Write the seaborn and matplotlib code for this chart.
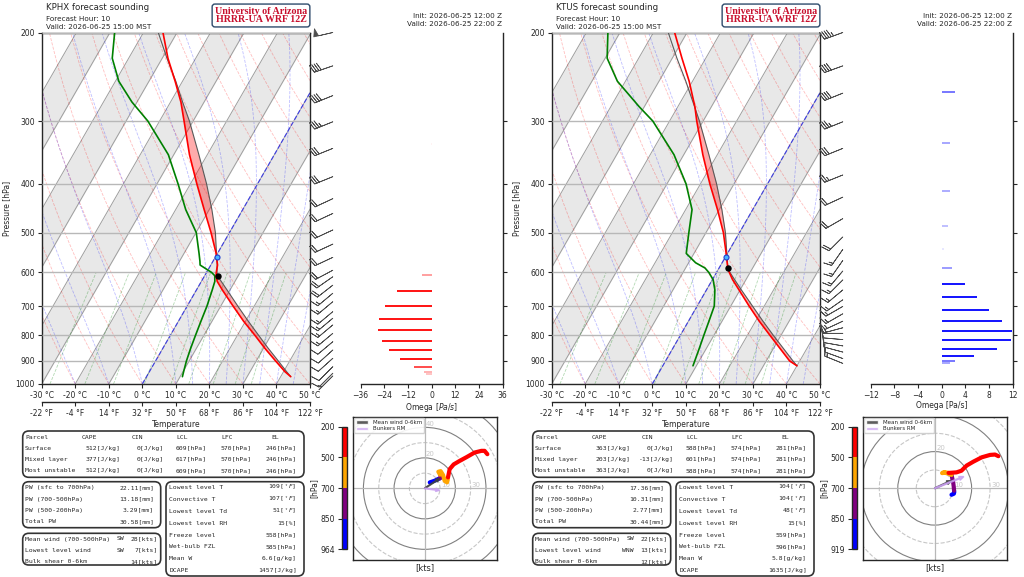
import numpy as np
import matplotlib
matplotlib.use("Agg")
import matplotlib.pyplot as plt
import matplotlib.transforms as mtransforms
import matplotlib.colors as mcolors
import matplotlib.cm as cm
from matplotlib.patches import FancyBboxPatch, Circle, Patch
from matplotlib.ticker import NullLocator, NullFormatter
import seaborn as sns

W, H = 1024, 577
SKEW = 37.5  # degC of horizontal shift per ln(1000/p)

# ---------------- KPHX ----------------
phx_p = [967, 945, 900, 850, 800, 750, 700, 650, 625, 609, 600, 580, 570, 550,
         500, 450, 400, 350, 300, 275, 250, 225, 200]
phx_t = [43.0, 40.4, 35.8, 30.5, 25.2, 19.4, 13.7, 7.7, 4.7, 3.4, 2.9, 2.0, 1.2, -0.4,
         -5.5, -11.5, -18.1, -25.3, -32.7, -36.9, -42.2, -48.3, -54.2]
phx_td = [10.7, 10.2, 9.2, 8.3, 7.5, 6.7, 5.9, 4.7, 4.0, 3.0, 1.5, -3.2, -3.9, -5.5,
          -9.9, -17.0, -23.7, -31.6, -43.5, -51.5, -59.0, -64.9, -68.6]
phx_parcel = [43.0, 40.9, 36.6, 31.5, 26.3, 20.8, 15.1, 9.1, 5.9, 3.8, 3.1, 1.9, 1.2, -0.3,
              -4.2, -9.2, -15.2, -22.5, -31.1, -36.4, -42.0, -48.6, -55.6]
phx_lcl = (609, 3.9)
phx_lfc = (560, 0.4)

phx_barb_p = [200, 233, 267, 301, 340, 387, 428, 458, 494, 527, 560, 594, 612,
              636, 660, 686, 718, 740, 763, 793, 824, 856, 889, 924, 952, 964]
phx_barb_spd = [50, 40, 40, 35, 30, 30, 20, 20, 20, 20, 20, 20, 20,
                20, 15, 15, 15, 15, 15, 15, 10, 10, 10, 10, 10, 7]
phx_barb_dir = [257, 251, 248, 248, 248, 248, 245, 245, 245, 245, 245, 242, 235,
                232, 230, 230, 230, 230, 230, 230, 230, 228, 228, 225, 225, 225]

phx_omega_p = [333, 607, 653, 699, 742, 782, 820, 855, 890, 923, 947, 955]
phx_omega = [-0.3, -4.9, -17.4, -23.5, -26.5, -27.0, -25.3, -21.5, -16.0, -9.1, -3.9, -3.0]

phx_hodo_p = [964, 925, 880, 850, 800, 750, 700, 680, 650, 620, 590, 560, 530, 500,
              450, 400, 350, 300, 270, 240, 220, 200]
phx_hodo_u = [3.3, 6.5, 8.5, 9.8, 10.4, 10.9, 10.0, 8.9, 10.4, 12.0, 13.0, 14.6, 15.0, 15.2,
              16.3, 18.9, 22.8, 27.2, 32.6, 37.0, 39.1, 40.9]
phx_hodo_v = [3.9, 5.0, 6.0, 6.5, 7.0, 7.6, 9.0, 10.9, 11.3, 8.7, 5.0, 3.9, 5.5, 7.2,
              12.6, 15.7, 18.0, 20.4, 23.5, 24.6, 24.6, 22.4]
phx_mean_wind = (9.8, 6.5)
phx_bunkers = (9.8, -1.3)

phx_cape = [512, 377, 512]
phx_cin = [0, 0, 0]
phx_lcl_tab = [609, 617, 609]
phx_lfc_tab = [570, 570, 570]
phx_el_tab = [246, 246, 246]
phx_pw = [22.11, 13.18, 3.29, 30.58]
phx_wind_dir = ["SW", "SW", ""]
phx_wind_spd = [28, 7, 14]
phx_misc = ["109", "107", "51", "15", "558", "585", "6.6", "1457"]

# ---------------- KTUS ----------------
tus_p = [920, 900, 850, 800, 750, 700, 650, 620, 600, 588, 574, 550,
         500, 450, 400, 350, 300, 281, 250, 225, 200]
tus_t = [40.0, 37.0, 32.0, 26.7, 21.1, 15.5, 9.7, 6.0, 3.8, 2.6, 1.5, -0.4,
         -4.8, -10.5, -17.2, -24.3, -31.9, -34.9, -41.0, -47.1, -53.7]
tus_td = [9.0, 8.7, 7.9, 7.0, 6.1, 5.1, 2.5, 0.2, -2.3, -4.2, -7.9, -12.3,
          -15.1, -18.1, -24.3, -32.9, -45.0, -51.5, -62.4, -69.4, -73.6]
tus_parcel = [40.0, 38.0, 33.0, 27.7, 22.2, 16.5, 10.4, 6.6, 4.0, 2.6, 1.6, -0.2,
              -4.2, -9.2, -15.2, -22.5, -31.1, -35.0, -42.0, -48.6, -55.6]
tus_lcl = (589, 2.7)
tus_lfc = (560, 0.3)

tus_barb_p = [200, 233, 264, 301, 340, 384, 425, 469, 510, 540, 568, 596, 621,
              650, 680, 701, 725, 750, 773, 793, 816, 840, 864, 890, 910]
tus_barb_spd = [45, 40, 40, 35, 30, 25, 20, 20, 20, 15, 15, 15, 15,
                15, 15, 15, 15, 15, 15, 10, 10, 10, 10, 10, 13]
tus_barb_dir = [250, 250, 248, 248, 248, 248, 245, 240, 225, 215, 215, 220, 225,
                230, 235, 240, 240, 245, 255, 270, 275, 280, 285, 290, 292]

tus_omega_p = [263, 331, 414, 484, 539, 587, 632, 672, 713, 750, 784, 819, 850, 880, 902, 908]
tus_omega = [2.3, 1.5, 1.4, 1.1, 0.4, 1.7, 4.0, 6.0, 8.0, 10.2, 11.9, 11.7, 9.3, 5.5, 2.3, 1.5]

tus_hodo_p = [919, 900, 880, 850, 800, 750, 700, 670, 640, 600, 560, 530, 500,
              450, 400, 350, 300, 260, 230, 215, 200]
tus_hodo_u = [9.1, 10.4, 10.6, 10.5, 10.3, 10.0, 9.1, 7.5, 5.5, 4.0, 5.0, 6.5, 7.5,
              11.8, 14.5, 17.3, 20.9, 25.5, 30.0, 32.7, 34.5]
tus_hodo_v = [-3.5, -2.9, -2.0, -1.3, 1.0, 3.3, 7.3, 8.0, 8.5, 8.3, 8.8, 8.6, 8.4,
              8.7, 9.6, 12.4, 14.5, 16.9, 18.2, 18.4, 17.5]
tus_mean_wind = (9.1, 4.2)
tus_bunkers = (15.8, 6.4)

tus_cape = [363, 203, 363]
tus_cin = [0, -13, 0]
tus_lcl_tab = [588, 601, 588]
tus_lfc_tab = [574, 574, 574]
tus_el_tab = [281, 281, 281]
tus_pw = [17.36, 10.31, 2.77, 30.44]
tus_wind_dir = ["SW", "WNW", ""]
tus_wind_spd = [22, 13, 12]
tus_misc = ["104", "104", "48", "15", "559", "596", "5.8", "1635"]

misc_labels = ["Lowest level T", "Convective T", "Lowest level Td", "Lowest level RH",
               "Freeze level", "Wet-bulb FZL", "Mean W", "DCAPE"]
misc_units = [r"[$^\circ F$]", r"[$^\circ F$]", r"[$^\circ F$]", "[%]",
              "[hPa]", "[hPa]", "[g/kg]", "[J/kg]"]
pw_labels = ["PW (sfc to 700hPa)", "PW (700-500hPa)", "PW (500-200hPa)", "Total PW"]
wind_labels = ["Mean wind (700-500hPa)", "Lowest level wind", "Bulk shear 0-6km"]
parcel_labels = ["Surface", "Mixed layer", "Most unstable"]


def rect(x0, y0, x1, y1):
    """Pixel box (top-left origin) to figure fraction rect."""
    return [x0 / W, 1 - y1 / H, (x1 - x0) / W, (y1 - y0) / H]


def ptext(fig, x, y, s, **kw):
    kw.setdefault("va", "center")
    return fig.text(x / W, 1 - y / H, s, **kw)


def pbox(fig, x0, y0, x1, y1):
    fig.patches.append(FancyBboxPatch(
        (x0 / W, 1 - y1 / H), (x1 - x0) / W, (y1 - y0) / H,
        boxstyle="round,pad=0,rounding_size=0.006", mutation_aspect=W / H,
        transform=fig.transFigure, fill=False, ec="0.2", lw=1.2))


def skx(t, p):
    return np.asarray(t, float) + SKEW * np.log(1000.0 / np.asarray(p, float))


def moist_rate(tk, pp):
    es = 6.112 * np.exp(17.67 * (tk - 273.15) / (tk - 29.65))
    rs = 0.622 * es / (pp - es)
    return (287.04 * tk + 2.501e6 * rs) / (1004.0 + 2.501e6 ** 2 * rs * 0.622 / (287.04 * tk ** 2)) / pp


def moist_adiabats(t0, pres):
    t = np.asarray(t0, float) + 273.15
    out = [t.copy()]
    for p0, p1 in zip(pres[:-1], pres[1:]):
        k1 = moist_rate(t, p0)
        k2 = moist_rate(t + k1 * (p1 - p0), p1)
        t = t + 0.5 * (k1 + k2) * (p1 - p0)
        out.append(t.copy())
    return np.array(out).T - 273.15


def draw_skewt(fig, box, p, t, td, parcel, lcl, lfc, bp, bs, bd):
    ax = fig.add_axes(rect(*box))
    ax.set_yscale("log")
    pg = np.geomspace(1000, 200, 90)
    shift = SKEW * np.log(1000 / pg)

    # shaded isotherm bands and isotherms
    for t0 in range(-120, 60, 20):
        ax.fill_betweenx(pg, t0 + shift, t0 + 10 + shift, color="#e8e8e8", lw=0, zorder=0)
    for t0 in range(-120, 60, 10):
        ax.plot(t0 + shift, pg, color="0.62", lw=0.7, zorder=1)
    # dry adiabats
    for th in np.arange(-40, 220, 10) + 273.15:
        ax.plot(th * (pg / 1000) ** 0.2857 - 273.15 + shift, pg,
                color="red", ls="--", lw=0.6, alpha=0.25, zorder=1)
    # moist adiabats
    for row in moist_adiabats(np.concatenate((np.arange(-40, 10, 10), np.arange(10, 50, 5))), pg):
        ax.plot(row + shift, pg, color="blue", ls="--", lw=0.6, alpha=0.25, zorder=1)
    # mixing ratio lines
    pm = np.geomspace(1000, 600, 20)
    for w in [0.4, 1, 2, 4, 7, 10, 16, 24, 32]:
        e = pm * w / 1000 / (0.622 + w / 1000)
        lg = np.log(e / 6.112)
        ax.plot(243.5 * lg / (17.67 - lg) + SKEW * np.log(1000 / pm), pm,
                color="green", ls="--", lw=0.6, alpha=0.3, zorder=1)
    # 0 degC isotherm
    ax.plot(shift, pg, color="blue", ls="--", lw=0.9, alpha=0.6, zorder=2)

    p = np.asarray(p, float)
    t = np.asarray(t, float)
    parcel = np.asarray(parcel, float)
    ax.fill_betweenx(p, skx(t, p), skx(parcel, p), where=parcel >= t,
                     interpolate=True, color="red", alpha=0.33, lw=0, zorder=3)
    sns.lineplot(x=skx(parcel, p), y=p, sort=False, estimator=None, color="0.35",
                 lw=0.8, ax=ax, zorder=4)
    sns.lineplot(x=skx(td, p), y=p, sort=False, estimator=None, color="green",
                 lw=1.2, ax=ax, zorder=5)
    sns.lineplot(x=skx(t, p), y=p, sort=False, estimator=None, color="red",
                 lw=1.2, ax=ax, zorder=5)
    ax.plot(skx(lcl[1], lcl[0]), lcl[0], "o", color="black", ms=3.6, zorder=6)
    ax.plot(skx(lfc[1], lfc[0]), lfc[0], "o", mfc="#46b4ff", mec="#1f3fd0", mew=0.8,
            ms=3.6, zorder=6)

    # wind barbs along the right edge
    spd = np.asarray(bs, float)
    rad = np.radians(bd)
    u, v = -spd * np.sin(rad), -spd * np.cos(rad)
    trans = mtransforms.blended_transform_factory(ax.transAxes, ax.transData)
    ax.barbs(np.full(len(bp), 1.085), bp, u, v, transform=trans, length=5.3,
             lw=0.55, color="0.3", clip_on=False, zorder=6)

    ax.set_xlim(-30, 50)
    ax.set_ylim(1000, 200)
    ax.set_yticks(range(200, 1001, 100))
    ax.set_yticklabels([str(v) for v in range(200, 1001, 100)])
    ax.yaxis.set_minor_locator(NullLocator())
    ax.yaxis.set_minor_formatter(NullFormatter())
    ax.grid(axis="y", color="0.72", lw=1.0)
    ax.set_axisbelow(False)
    ax.set_xticks(range(-30, 51, 10))
    ax.set_xticklabels([f"{c} °C" for c in range(-30, 51, 10)])
    ax.tick_params(labelsize=5.5, length=3, width=0.8, pad=2)
    ax.set_ylabel("Pressure [hPa]", fontsize=5.5, labelpad=3)
    ax.set_xlabel("")
    sec = ax.secondary_xaxis(-0.05, functions=(lambda c: c * 9 / 5 + 32, lambda f: (f - 32) * 5 / 9))
    fticks = [c * 9 // 5 + 32 for c in range(-30, 51, 10)]
    sec.set_xticks(fticks)
    sec.set_xticklabels([f"{f} °F" for f in fticks])
    sec.tick_params(labelsize=5.5, length=3, width=0.8, pad=2)
    sec.set_xlabel("Temperature", fontsize=5.5, labelpad=2)
    return ax


def draw_omega(fig, box, p, w, xm, color, label):
    ax = fig.add_axes(rect(*box))
    w = np.asarray(w, float)
    alphas = np.clip(np.abs(w) / (xm / 3), 0.05, 1)
    ax.hlines(p, 0, w, colors=[mcolors.to_rgba(color, a) for a in alphas], lw=1.3)
    ax.set_yscale("log")
    ax.set_ylim(1000, 200)
    ax.set_xlim(-xm, xm)
    ax.set_xticks(np.arange(-xm, xm + 1, xm // 3))
    ax.set_yticks(range(300, 1000, 100))
    ax.set_yticklabels([])
    ax.yaxis.set_minor_locator(NullLocator())
    ax.yaxis.tick_right()
    for s in ("top", "left"):
        ax.spines[s].set_visible(False)
    ax.tick_params(labelsize=5.5, length=3, width=0.8, pad=2)
    ax.set_xlabel(label, fontsize=5.5, labelpad=1)
    return ax


def draw_hodo(fig, box, cbox, p, u, v, mean_uv, rm_uv, rng, bottom):
    ax = fig.add_axes(rect(*box))
    for r in range(10, 80, 10):
        even = r % 20 == 0
        ax.add_patch(Circle((0, 0), r, fill=False, ec="0.5" if even else "0.78",
                            ls="-" if even else "--", lw=0.8))
        if r + 3 > rng:
            continue
        if even:
            ax.text(0.8, r + 0.4, str(r), fontsize=5, color="0.78", ha="left", va="bottom",
                    clip_on=True)
        else:
            ax.text(r + 0.8, 0.4, str(r), fontsize=5, color="0.78", ha="left", va="bottom",
                    clip_on=True)
    ax.axhline(0, color="0.72", lw=0.9)
    ax.axvline(0, color="0.72", lw=0.9)

    p = np.asarray(p, float)
    u = np.asarray(u, float)
    v = np.asarray(v, float)
    layers = [(bottom, 850, "blue"), (850, 700, "purple"), (700, 500, "orange"), (500, 200, "red")]
    for lo, hi, c in layers:
        m = (p <= lo) & (p >= hi)
        ax.plot(u[m], v[m], color=c, lw=3, solid_capstyle="round", solid_joinstyle="round", zorder=4)

    ax.arrow(0, 0, *mean_uv, width=0.5, head_width=2.2, head_length=2.6,
             length_includes_head=True, color="0.25", alpha=0.85, zorder=5)
    ax.arrow(0, 0, *rm_uv, width=0.5, head_width=2.2, head_length=2.6,
             length_includes_head=True, color="#c89ef0", alpha=0.8, zorder=5)
    handles = [Patch(fc="0.25", alpha=0.85, label="Mean wind 0-6km"),
               Patch(fc="#c89ef0", alpha=0.8, label="Bunkers RM")]
    ax.legend(handles=handles, loc="upper left", fontsize=4, handlelength=2.2,
              handleheight=0.5, borderpad=0.3, labelspacing=0.25, framealpha=0.9,
              borderaxespad=0.3)
    ax.set_xlim(-rng, rng)
    ax.set_ylim(-rng, rng)
    ax.set_xticks([])
    ax.set_yticks([])
    ax.set_xlabel("[kts]", fontsize=6, labelpad=2)

    cax = fig.add_axes(rect(*cbox))
    cmap = mcolors.ListedColormap(["blue", "purple", "orange", "red"])
    norm = mcolors.BoundaryNorm([0, 1, 2, 3, 4], 4)
    cb = fig.colorbar(cm.ScalarMappable(norm=norm, cmap=cmap), cax=cax, ticks=[0, 1, 2, 3, 4])
    cb.ax.set_yticklabels([str(bottom), "850", "700", "500", "200"])
    cax.yaxis.set_ticks_position("left")
    cax.yaxis.set_label_position("left")
    cax.tick_params(labelsize=5.5, length=3, pad=2)
    cb.set_label("[hPa]", fontsize=5.5, labelpad=1)
    cb.outline.set_linewidth(1.0)


def draw_tables(fig, off, cape, cin, lcl, lfc, el, pw, wdir, wspd, misc):
    mono = dict(family="DejaVu Sans Mono", fontsize=4.55)

    pbox(fig, 22.7 + off, 431, 304 + off, 477.3)
    rows = [437.3, 448.3, 459.3, 470.7]
    for name, x in [("Parcel", 25), ("CAPE", 81.7), ("CIN", 131.7), ("LCL", 176.7),
                    ("LFC", 221.7), ("EL", 271.7)]:
        ptext(fig, x + off, rows[0], name, **mono)
    for i, lab in enumerate(parcel_labels):
        y = rows[i + 1]
        ptext(fig, 25 + off, y, lab, **mono)
        ptext(fig, 120 + off, y, f"{cape[i]}[J/kg]", ha="right", **mono)
        ptext(fig, 163.3 + off, y, f"{cin[i]}[J/kg]", ha="right", **mono)
        ptext(fig, 206.7 + off, y, f"{lcl[i]}[hPa]", ha="right", **mono)
        ptext(fig, 251.7 + off, y, f"{lfc[i]}[hPa]", ha="right", **mono)
        ptext(fig, 296.7 + off, y, f"{el[i]}[hPa]", ha="right", **mono)

    pbox(fig, 22.7 + off, 481.7, 160.7 + off, 527.7)
    for lab, val, y in zip(pw_labels, pw, [487.7, 499, 510.3, 521.7]):
        ptext(fig, 25 + off, y, lab, **mono)
        ptext(fig, 154 + off, y, f"{val:.2f}[mm]", ha="right", **mono)

    pbox(fig, 22.7 + off, 533.3, 160.7 + off, 565)
    for lab, d, s, y in zip(wind_labels, wdir, wspd, [539, 550.3, 561.7]):
        ptext(fig, 25 + off, y, lab, **mono)
        ptext(fig, 124 + off, y, d, ha="right", **mono)
        ptext(fig, 157.3 + off, y, f"{s}[kts]", ha="right", **mono)

    pbox(fig, 166 + off, 481.7, 304 + off, 576)
    ys = [487.7, 499.5, 511.5, 523.3, 535.3, 547, 558.7, 570.3]
    for lab, val, unit, y in zip(misc_labels, misc, misc_units, ys):
        ptext(fig, 169.3 + off, y, lab, **mono)
        ptext(fig, 296.7 + off, y, val + unit, ha="right", **mono)


def draw_header(fig, off, station, valid_local, valid_z):
    ptext(fig, 45.5 + off, 8, f"{station} forecast sounding", fontsize=6.2)
    ptext(fig, 45.5 + off, 19, "Forecast Hour: 10", fontsize=5.2)
    ptext(fig, 45.5 + off, 27, f"Valid: {valid_local}", fontsize=5.2)
    ptext(fig, 261 + off, 15.5, "University of Arizona\nHRRR-UA WRF 12Z", ha="center",
          family="Liberation Serif", weight="bold", color="#c8102e", fontsize=7.2,
          linespacing=0.9,
          bbox=dict(boxstyle="round,pad=0.28", fc="white", ec="#2e4a6b", lw=1.0))
    ptext(fig, 502 + off, 15.5, "Init: 2026-06-25 12:00 Z", ha="right", fontsize=5.2)
    ptext(fig, 502 + off, 24, f"Valid: {valid_z}", ha="right", fontsize=5.2)


def main():
    sns.set_style("ticks")
    plt.rcParams["font.family"] = ["DejaVu Sans"]
    plt.rcParams["axes.linewidth"] = 1.0
    plt.rcParams["axes.edgecolor"] = "0.15"

    fig = plt.figure(figsize=(W / 100, H / 100), dpi=100)

    stations = [
        dict(off=0, name="KPHX", p=phx_p, t=phx_t, td=phx_td, parcel=phx_parcel,
             lcl=phx_lcl, lfc=phx_lfc, bp=phx_barb_p, bs=phx_barb_spd, bd=phx_barb_dir,
             op=phx_omega_p, om=phx_omega, oxm=36, ocol="red", olab="Omega [$Pa/s$]",
             hp=phx_hodo_p, hu=phx_hodo_u, hv=phx_hodo_v, mean=phx_mean_wind,
             rm=phx_bunkers, rng=47, bottom=964,
             tab=(phx_cape, phx_cin, phx_lcl_tab, phx_lfc_tab, phx_el_tab, phx_pw,
                  phx_wind_dir, phx_wind_spd, phx_misc)),
        dict(off=510, name="KTUS", p=tus_p, t=tus_t, td=tus_td, parcel=tus_parcel,
             lcl=tus_lcl, lfc=tus_lfc, bp=tus_barb_p, bs=tus_barb_spd, bd=tus_barb_dir,
             op=tus_omega_p, om=tus_omega, oxm=12, ocol="blue", olab="Omega [Pa/s]",
             hp=tus_hodo_p, hu=tus_hodo_u, hv=tus_hodo_v, mean=tus_mean_wind,
             rm=tus_bunkers, rng=39, bottom=919,
             tab=(tus_cape, tus_cin, tus_lcl_tab, tus_lfc_tab, tus_el_tab, tus_pw,
                  tus_wind_dir, tus_wind_spd, tus_misc)),
    ]

    for s in stations:
        o = s["off"]
        draw_skewt(fig, (41.7 + o, 32.5, 310 + o, 384), s["p"], s["t"], s["td"], s["parcel"],
                   s["lcl"], s["lfc"], s["bp"], s["bs"], s["bd"])
        draw_omega(fig, (360.7 + o, 32.5, 502.5 + o, 384), s["op"], s["om"], s["oxm"],
                   s["ocol"], s["olab"])
        draw_hodo(fig, (352.7 + o, 416.7, 496.7 + o, 560), (341.7 + o, 426.7, 347.3 + o, 549.3),
                  s["hp"], s["hu"], s["hv"], s["mean"], s["rm"], s["rng"], s["bottom"])
        draw_tables(fig, o, *s["tab"])
        draw_header(fig, o, s["name"], "2026-06-25 15:00 MST", "2026-06-25 22:00 Z")

    fig.savefig("out.png", dpi=100)


if __name__ == "__main__":
    main()
